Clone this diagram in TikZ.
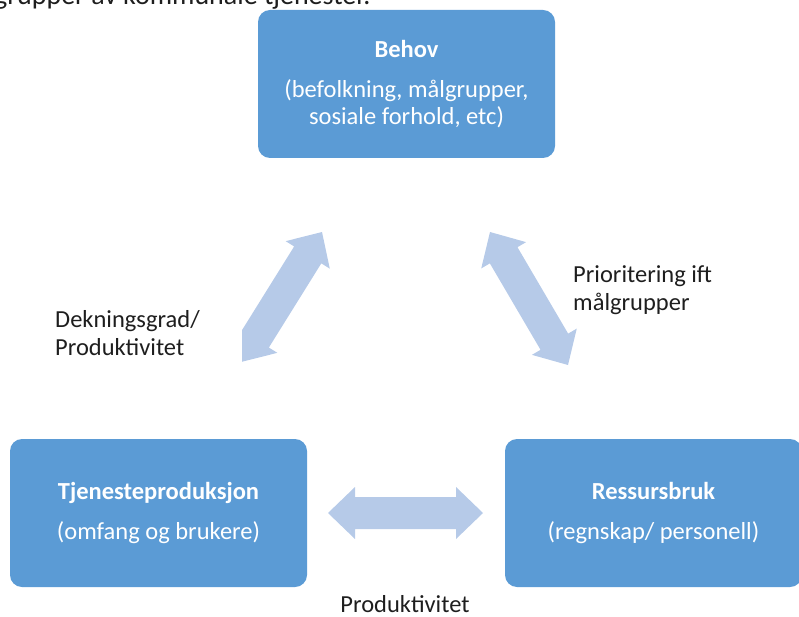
\documentclass[tikz,border=0pt]{standalone}
\usepackage{fontspec}
\setmainfont{Carlito}
\usetikzlibrary{calc}
\definecolor{boxblue}{HTML}{5B9BD5}
\definecolor{arrowblue}{HTML}{B6CAE8}
\definecolor{textdark}{HTML}{1E1E1E}
\tikzset{
  box/.style={fill=boxblue, rounded corners=12pt, minimum width=297pt, minimum height=148pt,
    text=white, align=center, inner sep=0pt, font=\fontsize{24.5}{27}\selectfont},
  lbl/.style={text=textdark, align=left, inner sep=0pt, font=\fontsize{24.5}{27.5}\selectfont},
  fatarrow/.style={fill=arrowblue}
}
\newcommand\fatarr[2]{%
  \fill[fatarrow] (#1)
    -- ($(#1)!27pt!(#2)!26pt!90:(#2)$)
    -- ($(#1)!27pt!(#2)!16pt!90:(#2)$)
    -- ($(#2)!27pt!(#1)!16pt!-90:(#1)$)
    -- ($(#2)!27pt!(#1)!26pt!-90:(#1)$)
    -- (#2)
    -- ($(#2)!27pt!(#1)!26pt!90:(#1)$)
    -- ($(#2)!27pt!(#1)!16pt!90:(#1)$)
    -- ($(#1)!27pt!(#2)!16pt!-90:(#2)$)
    -- ($(#1)!27pt!(#2)!26pt!-90:(#2)$)
    -- cycle;}
\begin{document}
\begin{tikzpicture}[x=1pt,y=-1pt]
\useasboundingbox (0,0) rectangle (799,617);
\clip (0,0) rectangle (799,617);
% cut-off text at the top
\node[lbl, anchor=base west, font=\fontsize{28}{30}\selectfont] (toptext) at (-6,5) {grupper av kommunale tjenester.};
% boxes
\node[box] (behov) at (406.5,84) {\textbf{Behov}\\[13pt](befolkning, målgrupper,\\sosiale forhold, etc)};
\node[box] (tjen) at (158.5,513) {\textbf{Tjenesteproduksjon}\\[13pt](omfang og brukere)};
\node[box] (ress) at (653.5,513) {\textbf{Ressursbruk}\\[13pt](regnskap/ personell)};
% arrow end points
\coordinate (la) at (241,362);
\coordinate (lb) at (322,232);
\coordinate (ra) at (490,232);
\coordinate (rb) at (568,365);
\coordinate (ha) at (328,513);
\coordinate (hb) at (483,513);
\begin{scope}
  \clip (242,200) rectangle (360,400);
  \fatarr{la}{lb}
\end{scope}
\fatarr{ra}{rb}
\fatarr{ha}{hb}
% labels (base anchor = baseline of last line)
\node[lbl, anchor=base west] (dek) at (55,355) {Dekningsgrad/\\Produktivitet};
\node[lbl, anchor=base west] (prio) at (573,310) {Prioritering ift\\målgrupper};
\node[lbl, anchor=base] (prod) at (405,612) {Produktivitet};
\end{tikzpicture}
\end{document}
